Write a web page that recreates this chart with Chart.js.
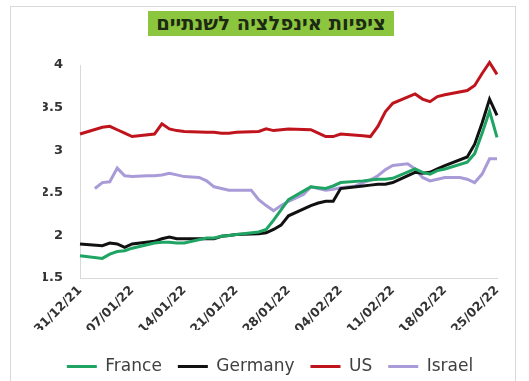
<!DOCTYPE html>
<html>
<head>
<meta charset="utf-8">
<script src="https://cdn.jsdelivr.net/npm/chart.js@4"></script>
<style>
  html, body { margin: 0; padding: 0; background: #fff; }
  #wrap { position: relative; width: 529px; height: 381px; overflow: hidden; background: #fff; }
  #frame { position: absolute; left: 10px; top: 6px; width: 506px; height: 380px; border: 1px solid #d9d9d9; box-sizing: border-box; }
  #title { position: absolute; left: 148px; top: 11px; width: 246px; height: 25px; background: #8cc63e;
           font: bold 19.5px 'DejaVu Sans', 'Liberation Sans', sans-serif; color: #1c2a14; text-align: center; line-height: 25px; direction: rtl; }
  canvas { position: absolute; left: 0; top: 0; }
</style>
</head>
<body>
<div id="wrap">
  <div id="frame"></div>
  <div id="title">ציפיות אינפלציה לשנתיים</div>
  <canvas id="c" width="529" height="381"></canvas>
</div>
<script>
const dates = [
  '31/12/21','01/01/22','02/01/22','03/01/22','04/01/22','05/01/22','06/01/22','07/01/22',
  '08/01/22','09/01/22','10/01/22','11/01/22','12/01/22','13/01/22','14/01/22',
  '15/01/22','16/01/22','17/01/22','18/01/22','19/01/22','20/01/22','21/01/22',
  '22/01/22','23/01/22','24/01/22','25/01/22','26/01/22','27/01/22','28/01/22',
  '29/01/22','30/01/22','31/01/22','01/02/22','02/02/22','03/02/22','04/02/22',
  '05/02/22','06/02/22','07/02/22','08/02/22','09/02/22','10/02/22','11/02/22',
  '12/02/22','13/02/22','14/02/22','15/02/22','16/02/22','17/02/22','18/02/22',
  '19/02/22','20/02/22','21/02/22','22/02/22','23/02/22','24/02/22','25/02/22'
];
const tickLabels = ['31/12/21','07/01/22','14/01/22','21/01/22','28/01/22','04/02/22','11/02/22','18/02/22','25/02/22'];
const seriesNames = ['France','Germany','US','Israel'];

const france = [1.76,null,null,1.73,1.78,1.81,1.82,1.85,null,null,1.91,1.92,1.92,1.91,1.91,null,null,1.97,1.97,1.99,2.00,2.01,null,null,2.04,2.07,2.18,2.30,2.42,null,null,2.57,2.56,2.55,2.58,2.62,null,null,2.64,2.65,2.66,2.66,2.67,null,null,2.78,2.74,2.72,2.76,2.78,null,null,2.86,2.96,3.20,3.46,3.15];
const germany = [1.90,null,null,1.88,1.91,1.90,1.86,1.90,null,null,1.93,1.96,1.98,1.96,1.96,null,null,1.96,1.96,1.99,2.00,2.01,null,null,2.02,2.03,2.07,2.12,2.23,null,null,2.35,2.38,2.40,2.40,2.55,null,null,2.58,2.59,2.60,2.60,2.62,null,null,2.74,2.73,2.74,2.78,2.82,null,null,2.92,3.07,3.32,3.60,3.41];
const us = [3.19,null,null,3.27,3.28,3.24,3.20,3.16,null,null,3.19,3.31,3.25,3.23,3.22,null,null,3.21,3.21,3.20,3.20,3.21,null,null,3.22,3.25,3.23,3.24,3.25,null,null,3.24,3.20,3.16,3.16,3.19,null,null,3.17,3.16,3.28,3.45,3.55,null,null,3.66,3.60,3.57,3.63,3.65,null,null,3.70,3.76,3.90,4.03,3.89];
const israel = [null,null,2.55,2.62,2.63,2.79,2.70,2.69,null,2.70,2.70,2.71,2.73,2.71,2.69,null,2.68,2.64,2.57,2.55,2.53,2.53,null,2.53,2.42,2.35,2.29,2.35,2.40,null,2.48,2.57,2.55,2.53,2.54,2.56,null,2.58,2.62,2.65,2.70,2.77,2.82,null,2.84,2.78,2.68,2.64,2.66,2.68,null,2.68,2.66,2.62,2.72,2.90,2.90];

const yTicks = [1.5, 2, 2.5, 3, 3.5, 4];
const colors = ['#1fa463', '#111111', '#c0141c', '#a99bd8'];
const values = [france, germany, us, israel];

const FONT = "'DejaVu Sans', 'Liberation Sans', sans-serif";

const legendShift = {
  id: 'legendShift',
  afterLayout(chart) {
    if (chart.legend) { chart.legend.top += 12; chart.legend.bottom += 12; }
  }
};

new Chart(document.getElementById('c'), {
  type: 'line',
  data: {
    labels: dates,
    datasets: seriesNames.map((n, i) => ({
      label: n,
      data: values[i],
      borderColor: colors[i],
      backgroundColor: colors[i],
      borderWidth: 3,
      pointRadius: 0,
      pointHoverRadius: 0,
      tension: 0,
      spanGaps: true,
      clip: false,
      pointStyle: 'line'
    }))
  },
  plugins: [legendShift],
  options: {
    responsive: false,
    animation: false,
    layout: { padding: { left: 43, right: 32, top: 65, bottom: 8 } },
    plugins: {
      title: { display: false },
      tooltip: { enabled: false },
      legend: {
        position: 'bottom',
        labels: {
          usePointStyle: true,
          pointStyleWidth: 30,
          boxHeight: 3,
          padding: 16,
          color: '#404040',
          font: { family: FONT, size: 17 }
        }
      }
    },
    scales: {
      x: {
        type: 'category',
        grid: { display: false, drawTicks: false },
        border: { display: true, color: '#d9d9d9', width: 1 },
        ticks: {
          autoSkip: false,
          maxRotation: 45,
          minRotation: 45,
          padding: 5,
          color: '#333333',
          font: { family: FONT, size: 12.5, weight: 'bold' },
          callback: function(v, idx) {
            const l = dates[idx];
            return tickLabels.includes(l) ? l : '';
          }
        },
        afterFit: s => { s.height = 52; }
      },
      y: {
        min: 1.5,
        max: 4,
        afterBuildTicks: s => { s.ticks = yTicks.map(v => ({ value: v })); },
        grid: { display: false, drawTicks: false },
        border: { display: true, color: '#d9d9d9', width: 1 },
        ticks: {
          padding: 17,
          color: '#333333',
          font: { family: FONT, size: 13, weight: 'bold' },
          callback: v => String(+v)
        },
        afterFit: s => { s.width = 37; }
      }
    }
  }
});
</script>
</body>
</html>
